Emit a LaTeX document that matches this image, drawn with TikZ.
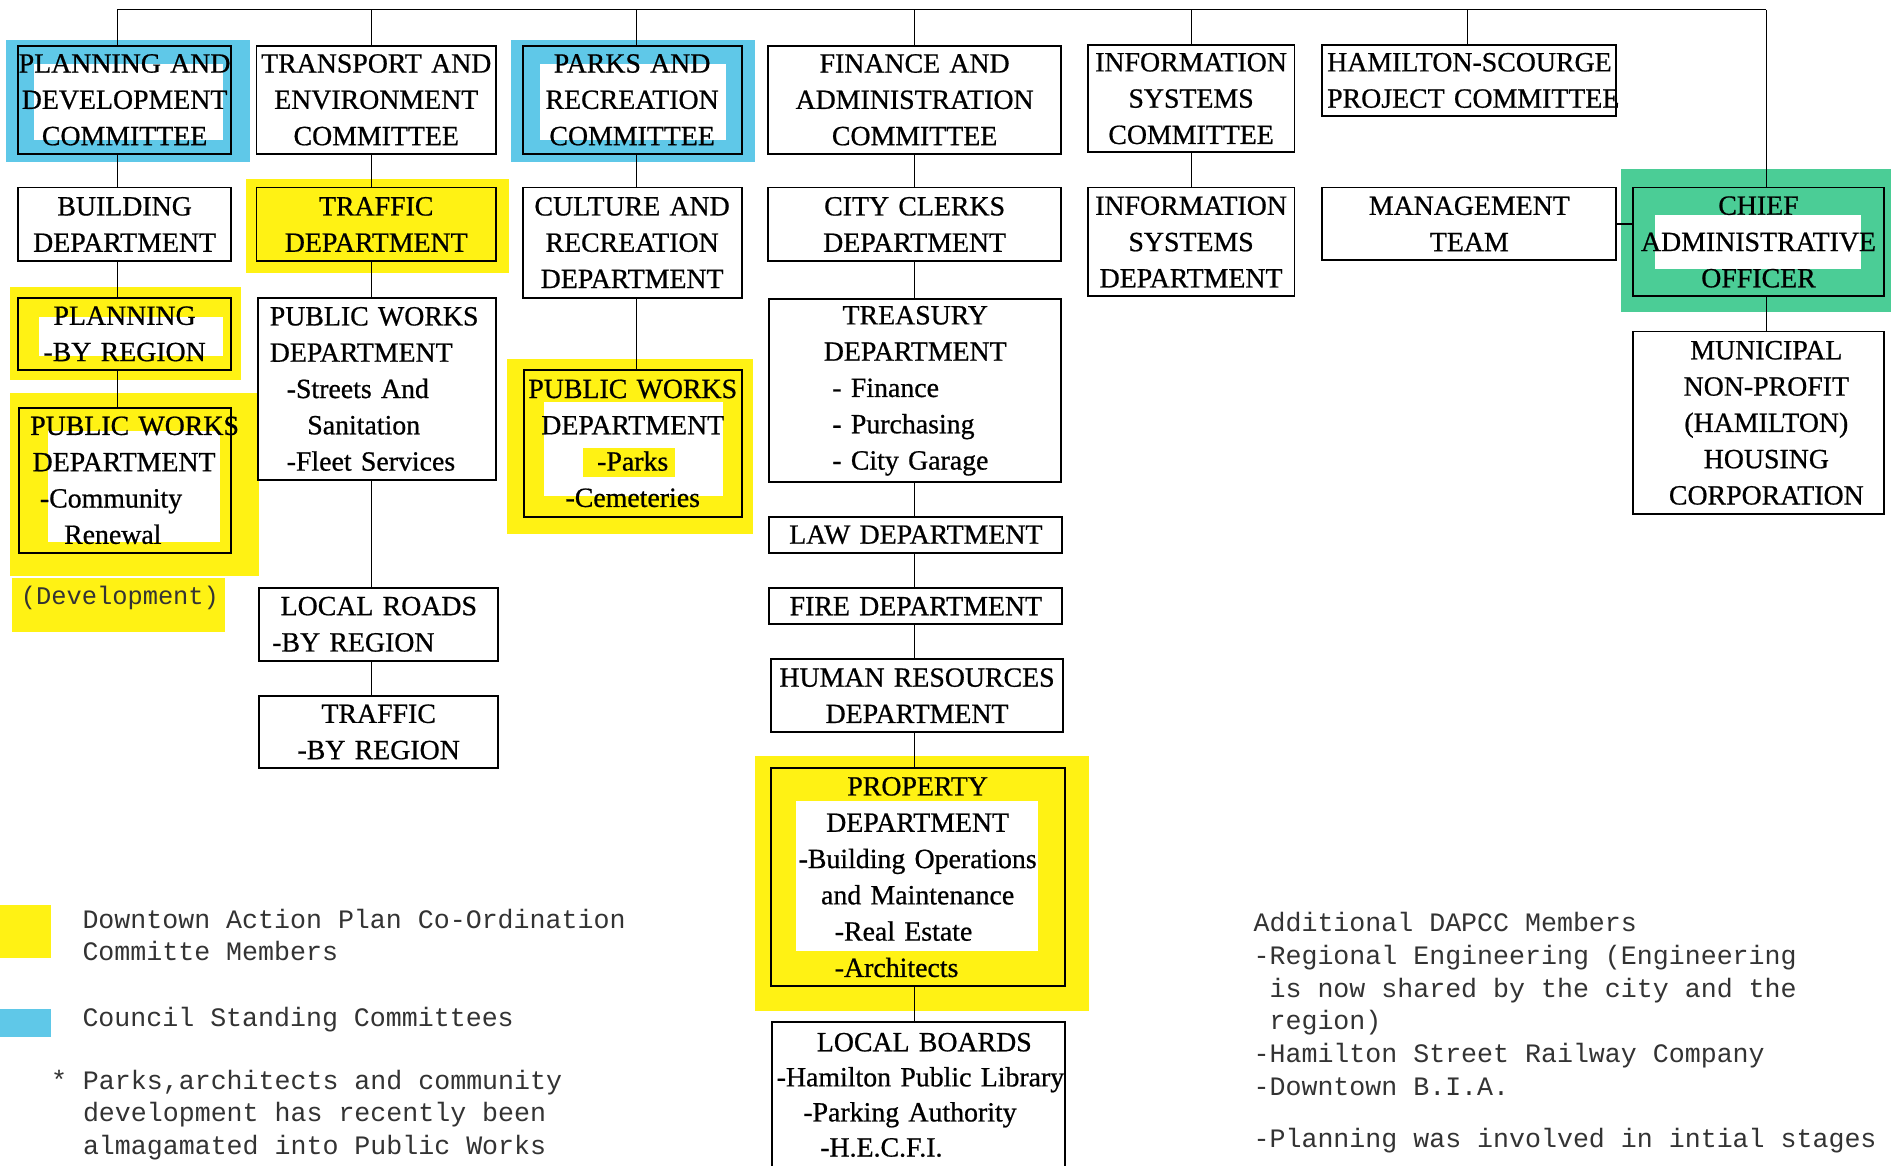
\documentclass[tikz,border=0pt]{standalone}
\usepackage{fontspec}
\setmainfont{Liberation Serif}
\setmonofont{Liberation Mono}
\newfontfamily\boxfont{Liberation Serif}[FakeBold=0.7]
\definecolor{hlY}{RGB}{255,242,20}
\definecolor{hlC}{RGB}{95,200,232}
\definecolor{hlG}{RGB}{75,205,150}
\newcommand\Lf[2]{\makebox[\hsize][l]{\hspace*{#1pt}#2}}
\newcommand\Ct[2]{\makebox[\hsize][c]{\hspace*{#1pt}#2}}
\begin{document}
\begin{tikzpicture}[x=1pt,y=-1pt,
 box/.style={draw=black, line width=1.6pt, inner sep=0pt, align=center, font=\boxfont\fontsize{23}{30}\selectfont},
 link/.style={draw=black, line width=1.3pt},
 tt/.style={font=\ttfamily\fontsize{22}{27}\selectfont, text=black!80, inner sep=0pt, align=left, anchor=north west}]
\useasboundingbox (0,0) rectangle (1568,963);
\clip (0,0) rectangle (1568,963);
\fill[white] (0,0) rectangle (1568,963);
% highlights
\fill[hlC] (5,33) rectangle (207,134);
\fill[white] (28,53) rectangle (184,116);
\fill[hlC] (422,33) rectangle (624,134);
\fill[white] (446,53) rectangle (600,116);
\fill[hlG] (1340,140) rectangle (1563,258);
\fill[white] (1368,178) rectangle (1538,222);
\fill[hlY] (203,148) rectangle (421,226);
\fill[hlY] (8,237) rectangle (199,314);
\fill[white] (32,262) rectangle (184,294);
\fill[hlY] (8,325) rectangle (214,476);
\fill[white] (40,356) rectangle (182,448);
\fill[hlY] (10,478) rectangle (186,522);
\fill[hlY] (419,297) rectangle (622,441);
\fill[white] (450,332) rectangle (598,410);
\fill[hlY] (482,370) rectangle (558,394);
\fill[hlY] (624,625) rectangle (900,836);
\fill[white] (658,662) rectangle (858,786);
\fill[hlY] (0,748) rectangle (42,792);
\fill[hlC] (0,834) rectangle (42,857);
% row 1
\node[box, text width=176pt, minimum height=89pt] (pdc) at (103,82.5) {PLANNING AND\\DEVELOPMENT\\COMMITTEE};
\node[box, text width=198pt, minimum height=89pt] (tec) at (311,82.5) {TRANSPORT AND\\ENVIRONMENT\\COMMITTEE};
\node[box, text width=181pt, minimum height=89pt] (prc) at (522.5,82.5) {PARKS AND\\RECREATION\\COMMITTEE};
\node[box, text width=242pt, minimum height=89pt] (fac) at (756,82.5) {FINANCE AND\\ADMINISTRATION\\COMMITTEE};
\node[box, text width=171pt, minimum height=89pt] (isc) at (984.5,81.5) {INFORMATION\\SYSTEMS\\COMMITTEE};
\node[box, text width=243pt, minimum height=59pt] (hsc) at (1214.5,66.5) {\Lf{4}{HAMILTON-SCOURGE}\\\Lf{4}{PROJECT COMMITTEE}};
% row 2
\node[box, text width=176pt, minimum height=61pt] (bld) at (103,185.5) {BUILDING\\DEPARTMENT};
\node[box, text width=198pt, minimum height=61pt] (trd) at (311,185.5) {TRAFFIC\\DEPARTMENT};
\node[box, text width=181pt, minimum height=91pt] (crd) at (522.5,200.5) {CULTURE AND\\RECREATION\\DEPARTMENT};
\node[box, text width=242pt, minimum height=61pt] (ccd) at (756,185.5) {CITY CLERKS\\DEPARTMENT};
\node[box, text width=171pt, minimum height=90pt] (isd) at (984.5,200) {INFORMATION\\SYSTEMS\\DEPARTMENT};
\node[box, text width=243pt, minimum height=60pt] (mgt) at (1214.5,185) {MANAGEMENT\\TEAM};
\node[box, text width=207pt, minimum height=90pt] (cao) at (1453.5,200) {CHIEF\\ADMINISTRATIVE\\OFFICER};
% row 3
\node[box, text width=176pt, minimum height=60pt] (plr) at (103,276) {PLANNING\\-BY REGION};
\node[box, text width=197pt, minimum height=151pt] (pwt) at (311.5,321.5) {\Lf{10}{PUBLIC WORKS}\\\Lf{10}{DEPARTMENT}\\\Lf{24}{-Streets And}\\\Lf{41}{Sanitation}\\\Lf{24}{-Fleet Services}};
\node[box, text width=241pt, minimum height=151pt] (tre) at (756.5,323) {TREASURY\\DEPARTMENT\\\Lf{52}{- Finance}\\\Lf{52}{- Purchasing}\\\Lf{52}{- City Garage}};
\node[box, text width=207pt, minimum height=151pt] (mnp) at (1453.5,349.5) {\Ct{13}{MUNICIPAL}\\\Ct{13}{NON-PROFIT}\\\Ct{13}{(HAMILTON)}\\\Ct{13}{HOUSING}\\\Ct{13}{CORPORATION}};
\node[box, text width=180pt, minimum height=121pt] (pwp) at (523,366.5) {PUBLIC WORKS\\DEPARTMENT\\-Parks\\-Cemeteries};
\node[box, text width=175pt, minimum height=120pt] (pwc) at (103.5,397) {\Lf{9}{PUBLIC WORKS}\\\Lf{11}{DEPARTMENT}\\\Lf{17}{-Community}\\\Lf{37}{Renewal}};
% finance column
\node[box, text width=242pt, minimum height=30pt] (law) at (757,442) {LAW DEPARTMENT};
\node[box, text width=242pt, minimum height=30pt] (fire) at (757,501) {FIRE DEPARTMENT};
\node[box, text width=242pt, minimum height=60pt] (hr) at (758,575) {HUMAN RESOURCES\\DEPARTMENT};
\node[box, text width=243pt, minimum height=180pt] (prop) at (758.5,725) {PROPERTY\\DEPARTMENT\\-Building Operations\\and Maintenance\\\Lf{53}{-Real Estate}\\\Lf{53}{-Architects}};
\node[box, text width=242pt, minimum height=120pt, font=\boxfont\fontsize{23}{29}\selectfont] (lb) at (759,905) {\Ct{10}{LOCAL BOARDS}\\\Lf{4}{-Hamilton Public Library}\\\Lf{26}{-Parking Authority}\\\Lf{40}{-H.E.C.F.I.}};
% transport column lower
\node[box, text width=198pt, minimum height=60pt] (lr) at (313,516) {\Lf{18}{LOCAL ROADS}\\\Lf{11}{-BY REGION}};
\node[box, text width=198pt, minimum height=60pt] (tr) at (313,605) {TRAFFIC\\-BY REGION};
% connectors
\coordinate (c1) at (97,8);
\coordinate (c2) at (307,8);
\coordinate (c3) at (526,8);
\coordinate (c4) at (756,8);
\coordinate (c5) at (985,8);
\coordinate (c6) at (1213,8);
\coordinate (c7) at (1460,8);
\draw[link] (c1) -- (c7);
\draw[link] (c1) -- (c1 |- pdc.north);
\draw[link] (c2) -- (c2 |- tec.north);
\draw[link] (c3) -- (c3 |- prc.north);
\draw[link] (c4) -- (c4 |- fac.north);
\draw[link] (c5) -- (c5 |- isc.north);
\draw[link] (c6) -- (c6 |- hsc.north);
\draw[link] (c7) -- (c7 |- cao.north);
\draw[link] (c1 |- pdc.south) -- (c1 |- bld.north);
\draw[link] (c1 |- bld.south) -- (c1 |- plr.north);
\draw[link] (c1 |- plr.south) -- (c1 |- pwc.north);
\draw[link] (c2 |- tec.south) -- (c2 |- trd.north);
\draw[link] (c2 |- trd.south) -- (c2 |- pwt.north);
\draw[link] (c2 |- pwt.south) -- (c2 |- lr.north);
\draw[link] (c2 |- lr.south) -- (c2 |- tr.north);
\draw[link] (c3 |- prc.south) -- (c3 |- crd.north);
\draw[link] (c3 |- crd.south) -- (c3 |- pwp.north);
\draw[link] (c4 |- fac.south) -- (c4 |- ccd.north);
\draw[link] (c4 |- ccd.south) -- (c4 |- tre.north);
\draw[link] (c4 |- tre.south) -- (c4 |- law.north);
\draw[link] (c4 |- law.south) -- (c4 |- fire.north);
\draw[link] (c4 |- fire.south) -- (c4 |- hr.north);
\draw[link] (c4 |- hr.south) -- (c4 |- prop.north);
\draw[link] (c4 |- prop.south) -- (c4 |- lb.north);
\draw[link] (c5 |- isc.south) -- (c5 |- isd.north);
\draw[link] (c7 |- cao.south) -- (c7 |- mnp.north);
\draw[link] (mgt.east) -- (mgt.east -| cao.west);
% notes
\node[tt, font=\ttfamily\fontsize{21}{27}\selectfont] (dev) at (17,484) {(Development)};
\node[tt] (lgY) at (68,751) {Downtown Action Plan Co-Ordination\\Committe Members};
\node[tt] (lgC) at (68,832) {Council Standing Committees};
\node[tt] (note) at (42,884) {* Parks,architects and community\\\phantom{* }development has recently been\\\phantom{* }almagamated into Public Works};
\node[tt] (add) at (1036,754) {Additional DAPCC Members\\-Regional Engineering (Engineering\\\phantom{-}is now shared by the city and the\\\phantom{-}region)\\-Hamilton Street Railway Company\\-Downtown B.I.A.};
\node[tt] (plan) at (1036,932) {-Planning was involved in intial stages};
\end{tikzpicture}
\end{document}
